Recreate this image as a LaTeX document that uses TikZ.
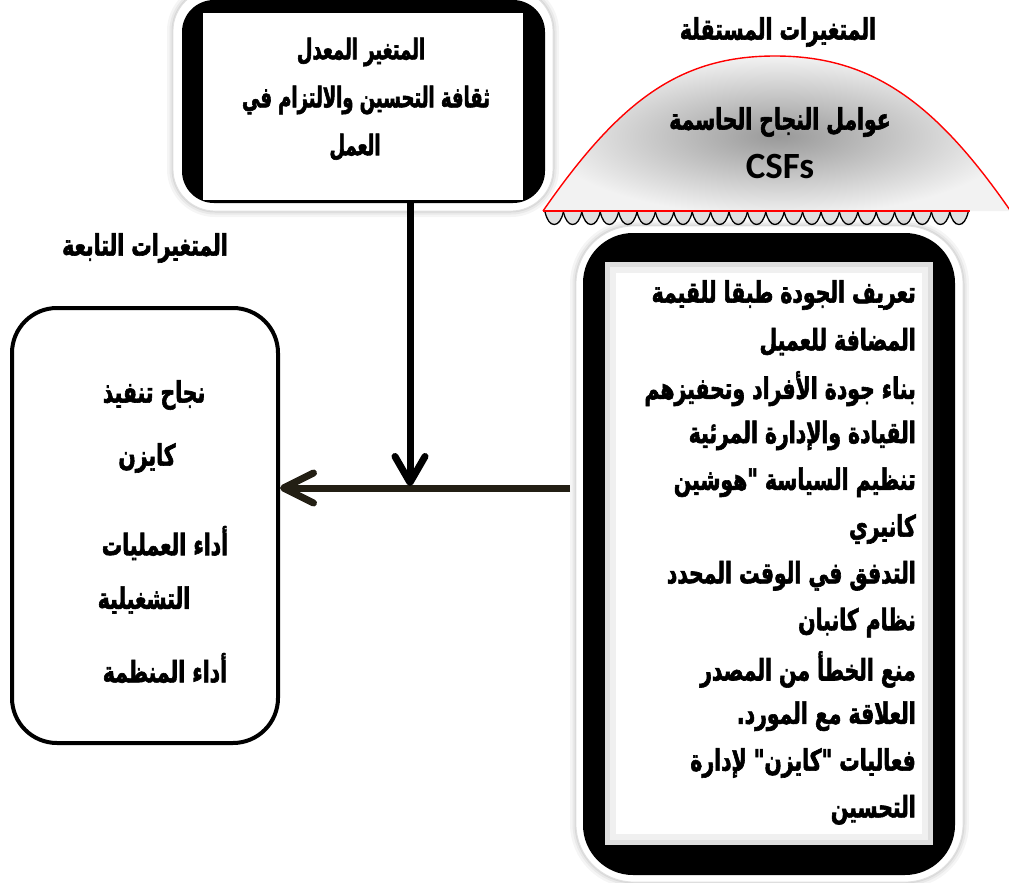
\documentclass[tikz,border=0pt]{standalone}
\usepackage{fontspec}
\usetikzlibrary{arrows.meta}
\TeXXeTstate=1
\newfontface\arfont[Script=Arabic, FakeStretch=0.69, FakeBold=2]{DejaVu Sans Bold}
\newfontface\arfonttop[Script=Arabic, FakeStretch=0.63, FakeBold=2]{DejaVu Sans Bold}
\newfontfamily\csffont{Carlito}
\begin{document}
\begin{tikzpicture}[x=1pt,y=-1pt,
  artxt/.style={font=\arfont\fontsize{29.5}{34}\selectfont, inner sep=0pt},
  toptxt/.style={font=\arfonttop\fontsize{28.5}{33}\selectfont, inner sep=0pt},
  softshadow/.style={preaction={draw=black, opacity=0.04, line width=12pt},
                     preaction={draw=black, opacity=0.05, line width=7pt},
                     preaction={draw=black, opacity=0.07, line width=3pt}},
  rim/.style={rectangle, fill=white, draw=black!12, line width=0.8pt, softshadow, inner sep=0pt},
  blackframe/.style={rectangle, fill=black, draw=none, inner sep=0pt},
  innerwhite/.style={rectangle, fill=white, draw=none, inner sep=0pt},
  depbox/.style={rectangle, draw=black, line width=4pt, fill=white, rounded corners=45pt, inner sep=0pt},
  vconn/.style={line width=7pt, black, -{Straight Barb[length=26pt, width=30pt, line cap=round, line join=round]}},
  hconn/.style={line width=7pt, draw={rgb,255:red,35;green,31;blue,20}, -{Straight Barb[length=30pt, width=30pt, line cap=round, line join=round]}},
  scallop/.style={fill=black!12, draw=black, line width=1.3pt},
]
\useasboundingbox (0,0) rectangle (1009,883);
\clip (0,0) rectangle (1009,883);

% ---------- top (moderator) box ----------
\node[rim, rounded corners=42pt, minimum width=380pt, minimum height=222pt] (modrim) at (363,100) {};
\node[blackframe, rounded corners=32pt, minimum width=363pt, minimum height=203pt] (modframe) at (363.5,101.5) {};
\node[innerwhite, minimum width=320pt, minimum height=187pt] (mod) at (363,106.5) {};
\node[toptxt] (mod1) at (361,52) {\beginR المتغير المعدل\endR};
\node[toptxt] (mod2) at (366,100) {\beginR ثقافة التحسين والالتزام في\endR};
\node[toptxt] (mod3) at (355,147) {\beginR العمل\endR};

% ---------- dome (independent variables) ----------
\shade[inner color=black!40, outer color=black!5]
  (543,211) .. controls (620,100) and (680,56) .. (775,56)
  .. controls (870,56) and (935,100) .. (1014,216) -- (1014,211) -- cycle;
\draw[red, line width=1.4pt]
  (543,211) .. controls (620,100) and (680,56) .. (775,56)
  .. controls (870,56) and (935,100) .. (1014,216);
\foreach \i in {0,...,22} {
  \pgfmathsetmacro{\xa}{545+18.4*\i}
  \draw[scallop] (\xa,212) .. controls (\xa+2,220) and (\xa+5,224.5) .. (\xa+9.2,224.5)
     .. controls (\xa+13.4,224.5) and (\xa+16.4,220) .. (\xa+18.4,212);
}
\draw[red, line width=1.4pt] (543,211) -- (970,211);
\node[artxt] (indtitle) at (778,32) {\beginR المتغيرات المستقلة\endR};
\node[artxt] (csf1) at (780,122) {\beginR عوامل النجاح الحاسمة\endR};
\node[font=\csffont\bfseries\fontsize{37}{41}\selectfont, inner sep=0pt] (csf2) at (780,167) {CSFs};

% ---------- right box (independent variable list) ----------
\node[rim, rounded corners=58pt, minimum width=387pt, minimum height=656pt] (indrim) at (769.5,554) {};
\node[blackframe, rounded corners=50pt, minimum width=372pt, minimum height=642pt] (indframe) at (769,554) {};
\node[rectangle, fill=black!13, inner sep=0pt, minimum width=328pt, minimum height=583pt] (indshade) at (769,553.5) {};
\node[rectangle, fill=black!6, inner sep=0pt, minimum width=318pt, minimum height=573pt] (indshade2) at (769,553.5) {};
\node[innerwhite, minimum width=306pt, minimum height=561pt] (ind) at (769,553.5) {};
\foreach \t [count=\i] in {تعريف الجودة طبقا للقيمة, المضافة للعميل, بناء جودة الأفراد وتحفيزهم, القيادة والإدارة المرئية, تنظيم السياسة "هوشين, كانيري, التدفق في الوقت المحدد, نظام كانبان, منع الخطأ من المصدر, العلاقة مع المورد., فعاليات "كايزن" لإدارة, التحسين} {
  \node[artxt, anchor=east] (item\i) at (916, 295+46.8*\i-46.8) {\beginR\t\endR};
}

% ---------- left box (dependent variables) ----------
\node[artxt] (deptitle) at (145,248) {\beginR المتغيرات التابعة\endR};
\node[depbox, minimum width=266pt, minimum height=435pt] (dep) at (145,525.5) {};
\node[artxt] (dep1) at (154,395) {\beginR نجاح تنفيذ\endR};
\node[artxt] (dep2) at (147,458) {\beginR كايزن\endR};
\node[artxt] (dep3) at (165,543) {\beginR أداء العمليات\endR};
\node[artxt] (dep4) at (144,600) {\beginR التشغيلية\endR};
\node[artxt] (dep5) at (165,668) {\beginR أداء المنظمة\endR};

% ---------- connectors ----------
\coordinate (jn) at (410,486);
\coordinate (src) at (570,488);
\draw[hconn] (src) -- (dep.east |- src);
\draw[vconn] (mod.south -| jn) -- (jn);
\end{tikzpicture}
\end{document}
